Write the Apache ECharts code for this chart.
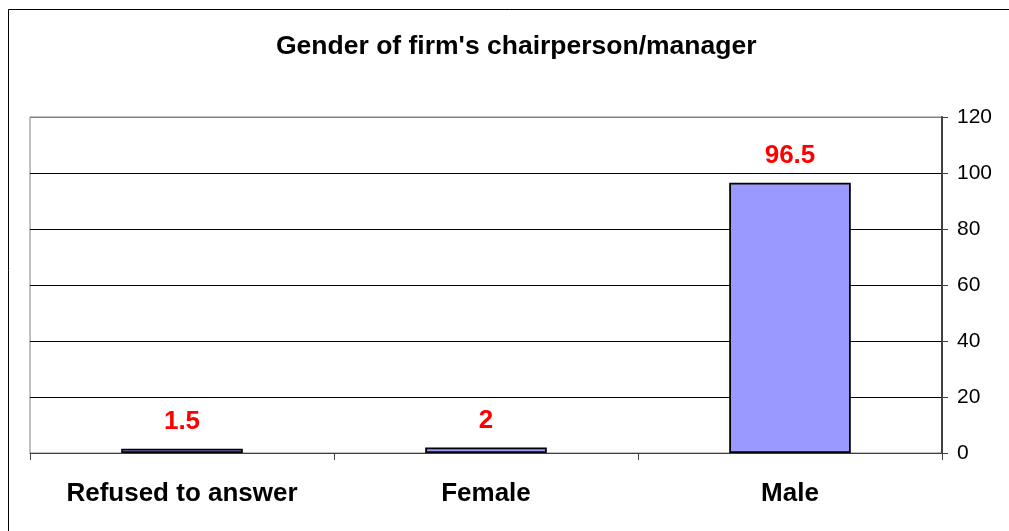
<!DOCTYPE html>
<html>
<head>
<meta charset="utf-8">
<script src="https://cdn.jsdelivr.net/npm/echarts@6/dist/echarts.min.js"></script>
<style>
  html, body { margin: 0; padding: 0; background: #fff; }
  #chart { width: 1009px; height: 531px; }
</style>
</head>
<body>
<div id="chart"></div>
<script>
// datos
const categories = ['Refused to answer', 'Female', 'Male'];
const values = [1.5, 2, 96.5];
const yTicks = { min: 0, max: 120, interval: 20 };

const chart = echarts.init(document.getElementById('chart'), null, { renderer: 'canvas' });

const font = 'Liberation Sans, Arial, sans-serif';

chart.setOption({
  animation: false,
  backgroundColor: '#fff',
  title: {
    text: "Gender of firm's chairperson/manager",
    left: 271,
    top: 28,
    textStyle: { fontFamily: font, fontSize: 26.5, fontWeight: 'bold', color: '#000' }
  },
  graphic: [{
    type: 'rect',
    shape: { x: 8.5, y: 9.5, width: 1030, height: 560 },
    style: { fill: 'none', stroke: '#000', lineWidth: 1 },
    silent: true
  }],
  grid: {
    left: 30, right: 67, top: 117, bottom: 78,
    show: true, borderColor: '#808080', borderWidth: 1
  },
  xAxis: {
    type: 'category',
    data: categories,
    axisLine: { show: true, lineStyle: { color: '#404040', width: 1 } },
    axisTick: { show: true, length: 7, alignWithLabel: false, lineStyle: { color: '#404040' } },
    axisLabel: {
      fontFamily: font, fontSize: 26, fontWeight: 'bold', color: '#000', margin: 28
    },
    splitLine: { show: false }
  },
  yAxis: {
    type: 'value',
    position: 'right',
    min: yTicks.min, max: yTicks.max, interval: yTicks.interval,
    axisLine: { show: true, lineStyle: { color: '#404040', width: 2 } },
    axisTick: { show: true, length: 6, lineStyle: { color: '#404040' } },
    axisLabel: { fontFamily: font, fontSize: 21, color: '#000', margin: 15 },
    splitLine: {
      show: true,
      lineStyle: { color: ['#000', '#000', '#000', '#000', '#000', '#000', '#808080'], width: 1 }
    }
  },
  series: [{
    type: 'bar',
    data: values,
    barWidth: '40%',
    itemStyle: { color: '#9999FF', borderColor: '#000', borderWidth: 1.8 },
    label: {
      show: true, position: 'top', distance: 14,
      fontFamily: font, fontSize: 26, fontWeight: 'bold', color: '#FF0000'
    }
  }]
});
</script>
</body>
</html>
